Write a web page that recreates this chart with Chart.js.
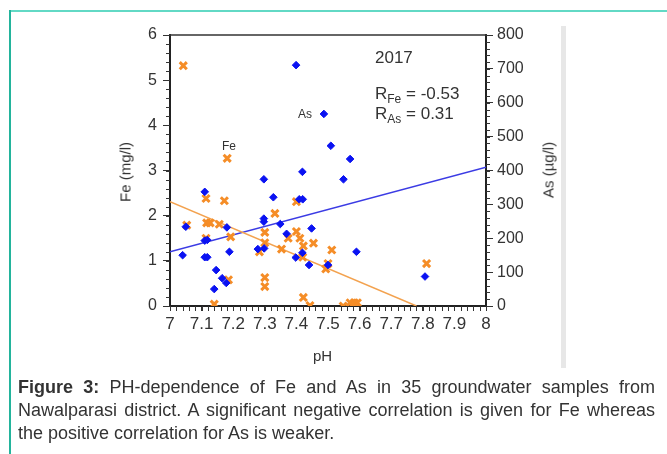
<!DOCTYPE html>
<html>
<head>
<meta charset="utf-8">
<script src="https://cdn.jsdelivr.net/npm/chart.js@4.4.0/dist/chart.umd.min.js"></script>
<style>
    body { margin: 0; background: #fff; font-family: 'Liberation Sans', Arial, sans-serif; color: #333; }
    #wrap { position: relative; width: 667px; height: 454px; overflow: hidden; }
    #chart { position: absolute; left: 0; top: 0; }
    .txt { position: absolute; white-space: nowrap; line-height: 1; color: #333; }
    .rot { transform: translate(-50%, -50%) rotate(-90deg); }
    sub { font-size: 12px; vertical-align: -4px; line-height: 0; }
</style>
</head>
<body>
<div id="wrap">
    <div style="position:absolute;left:9px;top:10px;right:0;height:2px;background:#62d9c5;"></div>
    <div style="position:absolute;left:9px;top:10px;width:2px;bottom:0;background:#23b49c;"></div>
    <div style="position:absolute;left:561px;top:26px;width:5px;height:342px;background:#e7e7e7;"></div>

    <canvas id="chart" width="667" height="454"></canvas>

    <div class="txt rot" style="left:125px;top:172px;font-size:15px;">Fe (mg/l)</div>
    <div class="txt rot" style="left:548px;top:170px;font-size:15px;">As (µg/l)</div>
    <div class="txt" style="left:313px;top:348px;font-size:15px;">pH</div>

    <div class="txt" style="left:375px;top:49px;font-size:17px;">2017</div>
    <div class="txt" style="left:375px;top:85px;font-size:17px;">R<sub>Fe</sub> = -0.53</div>
    <div class="txt" style="left:375px;top:105px;font-size:17px;">R<sub>As</sub> = 0.31</div>
    <div class="txt" style="left:298px;top:108px;font-size:12px;">As</div>
    <div class="txt" style="left:222px;top:140px;font-size:12px;">Fe</div>

    <div style="position:absolute;left:18px;top:376px;width:637px;font-size:18px;line-height:23px;text-align:justify;color:#333;">
        <b>Figure 3:</b> PH-dependence of Fe and As in 35 groundwater samples from Nawalparasi district. A significant negative correlation is given for Fe whereas the positive correlation for As is weaker.
    </div>
</div>

<script>
    'use strict';

    // Fe samples (left axis, mg/l)
    var fePh = [7.042, 7.181, 7.053, 7.114, 7.172, 7.116, 7.127, 7.156, 7.114, 7.192,
        7.185, 7.140, 7.283, 7.300, 7.300, 7.300, 7.300, 7.332, 7.353, 7.374,
        7.400, 7.400, 7.411, 7.454, 7.422, 7.420, 7.422, 7.443, 7.512, 7.500,
        7.493, 7.548, 7.570, 7.583, 7.593, 7.812];
    var feVal = [5.32, 3.27, 1.79, 2.38, 2.33, 1.84, 1.84, 1.81, 1.50, 1.53,
        0.58, 0.04, 1.20, 1.63, 1.40, 0.63, 0.43, 2.05, 1.26, 1.50,
        2.31, 1.65, 1.50, 1.39, 1.33, 1.08, 0.19, 0.01, 1.24, 0.94,
        0.82, 0.00, 0.07, 0.07, 0.07, 0.94];

    // As samples (right axis, µg/l)
    var asPh = [7.040, 7.050, 7.110, 7.110, 7.118, 7.110, 7.118, 7.146, 7.165, 7.178,
        7.140, 7.180, 7.188, 7.278, 7.298, 7.297, 7.297, 7.297, 7.327, 7.349,
        7.369, 7.398, 7.409, 7.420, 7.419, 7.419, 7.440, 7.448, 7.399, 7.487,
        7.509, 7.570, 7.549, 7.590, 7.500, 7.807];
    var asVal = [150, 234, 337, 193, 195, 144, 144, 106, 82, 68,
        50, 232, 160, 168, 170, 374, 258, 249, 321, 242,
        213, 143, 315, 315, 396, 157, 121, 229, 711, 567,
        473, 434, 374, 160, 121, 87];

    // regression lines
    var feFitPh = [7, 7.78];
    var feFitVal = [2.31, 0];
    var asFitPh = [7, 8];
    var asFitVal = [160, 410];

    // axis ranges
    var phRange = [7, 8];
    var feRange = [0, 6];
    var asRange = [0, 800];

    function toPoints(xs, ys) {
        return xs.map(function(x, i) {
            return { x: x, y: ys[i] };
        });
    }

    Chart.defaults.font.family = "'Liberation Sans', Arial, sans-serif";
    Chart.defaults.color = '#333';

    // top frame line + minor ticks
    var frame = {
        id: 'frame',
        afterDraw: function(chart) {
            var ctx = chart.ctx;
            var area = chart.chartArea;
            var sx = chart.scales.x, sy = chart.scales.y, sy2 = chart.scales.y2;
            var v, p;
            ctx.save();
            ctx.strokeStyle = '#333';
            ctx.lineWidth = 1.5;
            ctx.beginPath();
            ctx.moveTo(area.left - 1, area.top);
            ctx.lineTo(area.right + 1, area.top);
            ctx.stroke();

            ctx.lineWidth = 1;
            ctx.beginPath();
            for (v = 0; v <= 50; v++) {
                p = Math.round(sx.getPixelForValue(phRange[0] + v * 0.02)) + 0.5;
                ctx.moveTo(p, area.bottom);
                ctx.lineTo(p, area.bottom + 5);
            }
            for (v = 0; v <= 30; v++) {
                p = Math.round(sy.getPixelForValue(v * 0.2)) + 0.5;
                ctx.moveTo(area.left, p);
                ctx.lineTo(area.left - 4, p);
            }
            for (v = 0; v <= 40; v++) {
                p = Math.round(sy2.getPixelForValue(v * 20)) + 0.5;
                ctx.moveTo(area.right, p);
                ctx.lineTo(area.right + 4, p);
            }
            ctx.stroke();
            ctx.restore();
        }
    };

    var config = {
        type: 'scatter',
        data: {
            datasets: [{
                label: 'As',
                data: toPoints(asPh, asVal),
                yAxisID: 'y2',
                pointStyle: 'rectRot',
                pointRadius: 3.8,
                borderWidth: 1,
                backgroundColor: '#0a12f2',
                borderColor: '#0a12f2',
                order: 0
            }, {
                label: 'Fe',
                data: toPoints(fePh, feVal),
                yAxisID: 'y',
                pointStyle: 'crossRot',
                pointRadius: 5,
                borderWidth: 3,
                borderColor: '#f58d27',
                backgroundColor: '#f58d27',
                order: 1
            }, {
                label: 'Fe fit',
                data: toPoints(feFitPh, feFitVal),
                yAxisID: 'y',
                showLine: true,
                pointRadius: 0,
                borderWidth: 1.5,
                borderColor: '#f3a24f',
                order: 2
            }, {
                label: 'As fit',
                data: toPoints(asFitPh, asFitVal),
                yAxisID: 'y2',
                showLine: true,
                pointRadius: 0,
                borderWidth: 1.5,
                borderColor: '#3b3be4',
                order: 2
            }]
        },
        options: {
            responsive: false,
            animation: false,
            devicePixelRatio: 1,
            layout: {
                padding: { left: 120, right: 101, top: 35, bottom: 118 }
            },
            plugins: {
                legend: { display: false },
                tooltip: { enabled: false }
            },
            scales: {
                x: {
                    type: 'linear',
                    min: phRange[0],
                    max: phRange[1],
                    afterFit: function(s) { s.height = 30; },
                    border: { color: '#222', width: 2 },
                    grid: { drawOnChartArea: false, tickLength: 5, tickColor: '#333' },
                    ticks: {
                        stepSize: 0.1,
                        autoSkip: false,
                        maxRotation: 0,
                        padding: 3,
                        color: '#333',
                        font: { family: "'Liberation Sans Narrow', 'Liberation Sans', Arial, sans-serif", size: 17 },
                        callback: function(v) {
                            return String(Math.round(v * 10) / 10);
                        }
                    }
                },
                y: {
                    position: 'left',
                    min: feRange[0],
                    max: feRange[1],
                    afterFit: function(s) { s.width = 50; },
                    border: { color: '#222', width: 2 },
                    grid: { drawOnChartArea: false, tickLength: 7, tickColor: '#333' },
                    ticks: {
                        stepSize: 1,
                        padding: 6,
                        color: '#333',
                        font: { size: 16 }
                    }
                },
                y2: {
                    position: 'right',
                    min: asRange[0],
                    max: asRange[1],
                    afterFit: function(s) { s.width = 80; },
                    border: { color: '#222', width: 2 },
                    grid: { drawOnChartArea: false, tickLength: 7, tickColor: '#333' },
                    ticks: {
                        stepSize: 100,
                        padding: 4,
                        color: '#333',
                        font: { size: 16 }
                    }
                }
            }
        },
        plugins: [frame]
    };

    var chart = new Chart(document.getElementById('chart').getContext('2d'), config);
</script>
</body>
</html>
